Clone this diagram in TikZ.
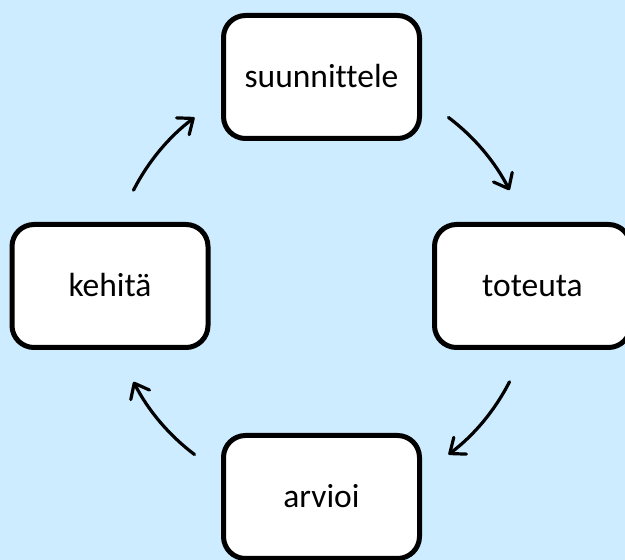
\documentclass[tikz,border=0pt]{standalone}
\usepackage{fontspec}
\setmainfont{Carlito}[Ligatures={NoCommon}]
\usetikzlibrary{arrows.meta,calc}
\definecolor{skyback}{RGB}{205,236,255}
\tikzset{
  stage/.style={draw=black, fill=white, line width=5pt, rounded corners=22pt,
    minimum width=196pt, minimum height=123pt, inner sep=0pt,
    text height=22pt, text depth=0pt,
    font=\fontsize{33.5}{40}\selectfont},
  cyclearrow/.style={draw=black, line width=3.2pt, line cap=round,
    -{Straight Barb[length=13pt, width=21pt, line cap=round, line join=round]}}
}
\begin{document}
\begin{tikzpicture}[x=1pt, y=1pt]
  \fill[skyback] (0,0) rectangle (625,560);
  \useasboundingbox (0,0) rectangle (625,560);
  \clip (0,0) rectangle (625,560);

  % the four stages of the cycle
  \node[stage] (plan)   at (321.5,483) {suunnittele};
  \node[stage] (doit)   at (532.5,274) {toteuta};
  \node[stage] (assess) at (321.5,63)  {arvioi};
  \node[stage] (grow)   at (110,274)   {kehitä};

  % hub of the circle the arrows follow
  \coordinate (hub) at (321.5,274);
  \coordinate (a1) at ($(hub)+(53:211)$);
  \coordinate (a2) at ($(hub)+(-27:211)$);
  \coordinate (a3) at ($(hub)+(-127:211)$);
  \coordinate (a4) at ($(hub)+(153:211)$);

  % clockwise arrows between the stages
  \draw[cyclearrow] (a1) arc[start angle=53,   end angle=27,   radius=211];
  \draw[cyclearrow] (a2) arc[start angle=-27,  end angle=-53,  radius=211];
  \draw[cyclearrow] (a3) arc[start angle=-127, end angle=-153, radius=211];
  \draw[cyclearrow] (a4) arc[start angle=153,  end angle=127,  radius=211];
\end{tikzpicture}
\end{document}
